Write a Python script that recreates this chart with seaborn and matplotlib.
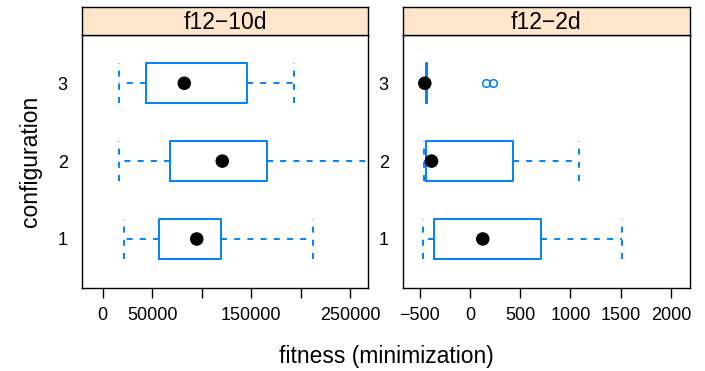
import numpy as np
import pandas as pd
import seaborn as sns
import matplotlib.pyplot as plt

configs = [1, 2, 3]

# f12-10d box summaries per configuration (1, 2, 3)
lo_10d = [21800, 16200, 16200]
q1_10d = [56600, 68300, 44000]
med_10d = [95000, 120800, 82400]
q3_10d = [119500, 166000, 145500]
hi_10d = [212100, 290000, 193500]
out_10d = [[], [], []]

# f12-2d box summaries per configuration (1, 2, 3)
lo_2d = [-463, -457, -438]
q1_2d = [-357, -440, -434]
med_2d = [127, -383, -450]
q3_2d = [710, 427, -428]
hi_2d = [1517, 1083, -425]
out_2d = [[], [], [160, 233]]

ticks_10d = [0, 50000, 100000, 150000, 200000, 250000]
labels_10d = ['0', '50000', '', '150000', '', '250000']
ticks_2d = [-500, 0, 500, 1000, 1500, 2000]
labels_2d = ['\u2212500', '0', '500', '1000', '1500', '2000']

sns.set_theme(style='white')
plt.rcParams['font.family'] = ['Liberation Sans', 'DejaVu Sans']
plt.rcParams['text.color'] = 'black'
plt.rcParams['xtick.color'] = 'black'
plt.rcParams['ytick.color'] = 'black'
plt.rcParams['lines.scale_dashes'] = False

blue = '#0080ff'
fig = plt.figure(figsize=(7.05, 3.71), dpi=100)


def panel(left, width, title, lo, q1, med, q3, hi, outs, xlim, ticks, labels):
    ax = fig.add_axes([left, 0.2237, width, 0.682])
    stats = [dict(whislo=a, q1=b, med=c, q3=d, whishi=e, fliers=f)
             for a, b, c, d, e, f in zip(lo, q1, med, q3, hi, outs)]
    dash = (0, (4.3, 5.2))
    ax.bxp(stats, positions=configs, widths=0.52, capwidths=0.52,
           orientation='horizontal',
           boxprops=dict(color=blue, lw=1.4),
           whiskerprops=dict(color=blue, lw=1.4, linestyle=dash),
           capprops=dict(color=blue, lw=1.4, linestyle=dash),
           medianprops=dict(lw=0),
           flierprops=dict(marker='o', mfc='none', mec=blue, ms=5.5, mew=1.1))
    df = pd.DataFrame({'fitness': med, 'configuration': configs})
    sns.scatterplot(data=df, x='fitness', y='configuration', ax=ax,
                    color='black', s=95, edgecolor='none', zorder=5, legend=False)
    ax.set_xlim(*xlim)
    ax.set_ylim(0.37, 3.62)
    ax.set_xticks(ticks, labels)
    ax.set_yticks(configs, [str(c) for c in configs])
    ax.tick_params(axis='x', bottom=True, direction='out', length=7, width=1,
                   pad=7, labelsize=13, color='black')
    ax.tick_params(axis='y', left=False, length=0, pad=10, labelsize=13)
    ax.set_xlabel('')
    ax.set_ylabel('')
    for s in ax.spines.values():
        s.set_color('black')
        s.set_linewidth(1)
    sax = fig.add_axes([left, 0.9057, width, 0.0755])
    sax.set_facecolor('#ffe5cc')
    sax.set_xticks([])
    sax.set_yticks([])
    for s in sax.spines.values():
        s.set_color('black')
        s.set_linewidth(1)
    sax.text(0.5, 0.45, title, ha='center', va='center', fontsize=16.5,
             transform=sax.transAxes)
    return ax


panel(0.1159, 0.4065, 'f12\u221210d', lo_10d, q1_10d, med_10d, q3_10d, hi_10d,
      out_10d, (-21200, 268300), ticks_10d, labels_10d)
panel(0.5712, 0.4075, 'f12\u22122d', lo_2d, q1_2d, med_2d, q3_2d, hi_2d,
      out_2d, (-670, 2190), ticks_2d, labels_2d)

fig.text(0.043, 0.566, 'configuration', rotation=90, ha='center', va='center',
         fontsize=16.5)
fig.text(0.548, 0.04, 'fitness (minimization)', ha='center', va='center',
         fontsize=16.5)

fig.savefig('out.png', dpi=100)
